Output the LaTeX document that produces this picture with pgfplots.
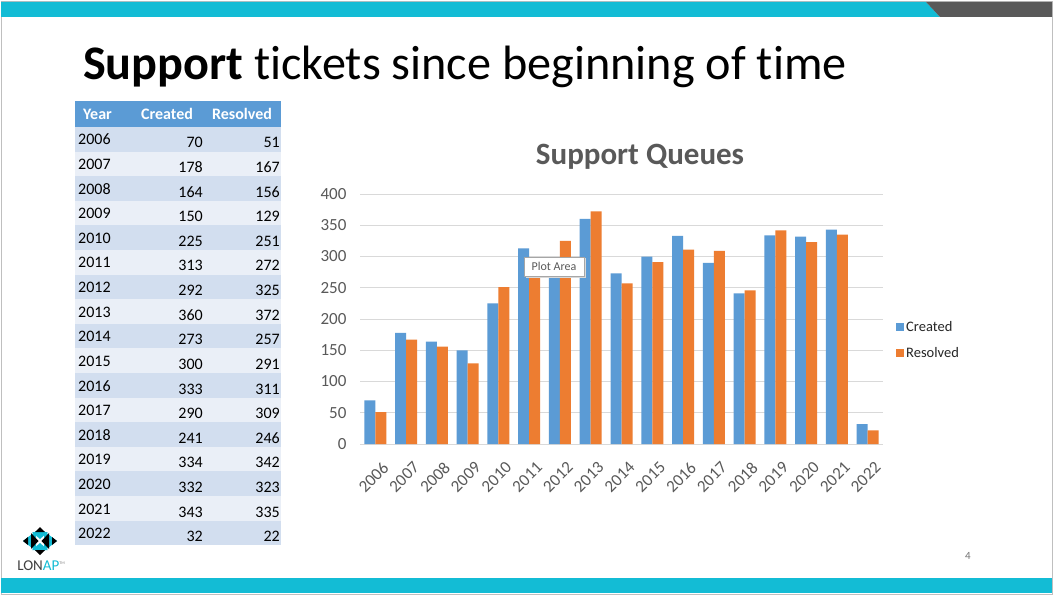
\documentclass[border=0pt]{standalone}
\usepackage{pgfplots}
\usepackage{pgfplotstable}
\pgfplotsset{compat=1.18}
\usepackage{fontspec}
\setmainfont{Carlito}[Ligatures=NoCommon]
\definecolor{xblue}{HTML}{5B9BD5}
\definecolor{xorange}{HTML}{ED7D31}
\definecolor{xgrey}{HTML}{595959}
\definecolor{xgrid}{HTML}{D9D9D9}
\definecolor{cyanbar}{HTML}{13BCD5}
\definecolor{rowA}{HTML}{D2DEEF}
\definecolor{rowB}{HTML}{EAEFF7}

\pgfplotstableread{
year created resolved
2006 70 51
2007 178 167
2008 164 156
2009 150 129
2010 225 251
2011 313 272
2012 292 325
2013 360 372
2014 273 257
2015 300 291
2016 333 311
2017 290 309
2018 241 246
2019 334 342
2020 332 323
2021 343 335
2022 32 22
}\data

\begin{document}
\begin{tikzpicture}[x=1pt,y=1pt]
\useasboundingbox (0,0) rectangle (1056,595);
\fill[white] (0,0) rectangle (1056,595);
\draw[black!25, line width=0.8pt] (1,1) rectangle (1052,594);
% top bar
\fill[cyanbar] (1,593) -- (926,593) -- (940,578) -- (1,578) -- cycle;
\fill[xgrey] (926,593) -- (1052,593) -- (1052,578) -- (940,578) -- cycle;
% bottom bar
\fill[cyanbar] (1,2) rectangle (1052,17);
% title
\node[anchor=base west, inner sep=0pt, font=\fontsize{48.2}{58}\selectfont] at (83,515) {\textbf{Support} tickets since beginning of time};
% table header
\fill[xblue] (75,494) rectangle (281,468);
\node[anchor=west, inner sep=0pt, text=white, font=\fontsize{16}{19}\selectfont\bfseries] at (83,481) {Year};
\node[inner sep=0pt, text=white, font=\fontsize{16}{19}\selectfont\bfseries] at (167,481) {Created};
\node[inner sep=0pt, text=white, font=\fontsize{16}{19}\selectfont\bfseries] at (242,481) {Resolved};
\foreach \yr/\c/\r [count=\i] in {2006/70/51,2007/178/167,2008/164/156,2009/150/129,2010/225/251,2011/313/272,2012/292/325,2013/360/372,2014/273/257,2015/300/291,2016/333/311,2017/290/309,2018/241/246,2019/334/342,2020/332/323,2021/343/335,2022/32/22}{
  \pgfmathsetmacro{\top}{468-(\i-1)*24.6}
  \pgfmathsetmacro{\bot}{\top-24.6}
  \ifodd\i \fill[rowA] (75,\top) rectangle (281,\bot); \else \fill[rowB] (75,\top) rectangle (281,\bot); \fi
  \node[anchor=base west, inner sep=0pt, font=\fontsize{16}{19}\selectfont] at (78,\top-18) {\yr};
  \node[anchor=base east, inner sep=0pt, font=\fontsize{16}{19}\selectfont] at (203,\top-21) {\c};
  \node[anchor=base east, inner sep=0pt, font=\fontsize{16}{19}\selectfont] at (280,\top-21) {\r};
}
% chart title
\node[text=xgrey, font=\fontsize{31}{37}\selectfont\bfseries] at (640,438) {Support Queues};
\begin{axis}[
  at={(360pt,151pt)}, anchor=south west,
  scale only axis, width=523pt, height=250pt,
  ymin=0, ymax=400, xmin=-0.5, xmax=16.5,
  ybar=0pt, bar width=11pt,
  xtick={0,...,16},
  xticklabels={2006,2007,2008,2009,2010,2011,2012,2013,2014,2015,2016,2017,2018,2019,2020,2021,2022},
  ytick={0,50,...,400},
  ymajorgrids, grid style={xgrid, line width=0.8pt},
  axis x line*=bottom, axis y line*=left,
  x axis line style={xgrid, line width=0.8pt, -},
  y axis line style={draw=none},
  tick style={draw=none},
  /pgf/number format/assume math mode=true,
  ticklabel style={text=xgrey, font=\fontsize{17}{20}\selectfont},
  yticklabel style={xshift=-10pt},
  xticklabel style={rotate=45, anchor=east, yshift=-19pt, xshift=-1pt},
  legend style={at={(1,0.416)}, anchor=west, xshift=10pt, draw=none, fill=none,
    font=\fontsize{14.5}{17}\selectfont, text=black!85, row sep=10pt, cells={anchor=west}},
  legend image code/.code={\fill[#1] (0pt,-4pt) rectangle (8pt,4pt);},
]
\addplot[fill=xblue, draw=none] table[x expr=\coordindex, y=created] {\data};
\addplot[fill=xorange, draw=none] table[x expr=\coordindex, y=resolved] {\data};
\legend{Created,Resolved}
\end{axis}
% tooltip
\fill[black!15] (525.5,336.5) rectangle (585.5,317.5);
\draw[black!35, fill=white, line width=0.6pt] (524,338) rectangle (584,319);
\node[text=xgrey, font=\fontsize{12}{14}\selectfont] at (554,328.5) {Plot Area};
% logo
\begin{scope}[shift={(40,54)}]
  \fill[cyanbar] (-17,0) -- (-4,10) -- (-4,-10) -- cycle;
  \fill[cyanbar] (17,0) -- (4,10) -- (4,-10) -- cycle;
  \fill[cyanbar] (-8,9) -- (8,9) -- (0,2) -- cycle;
  \fill[cyanbar] (-8,-9) -- (8,-9) -- (0,-2) -- cycle;
  \fill[black] (-5,9) -- (5,9) -- (0,14) -- cycle;
  \fill[black] (-5,-9) -- (5,-9) -- (0,-14) -- cycle;
  \fill[black] (-1.5,0) -- (-9,8) -- (-9,-8) -- cycle;
  \fill[black] (1.5,0) -- (9,8) -- (9,-8) -- cycle;
  \fill[black] (-17,0) -- (-12,4) -- (-12,-4) -- cycle;
  \fill[black] (17,0) -- (12,4) -- (12,-4) -- cycle;
\end{scope}
\node[inner sep=0pt, font=\fontsize{15}{17}\selectfont] at (41,29) {\textcolor{black!75}{LON}\textcolor{cyanbar}{AP}\raisebox{6pt}{\fontsize{4}{4}\selectfont\textcolor{black!50}{TM}}};
% page number
\node[text=black!55, font=\fontsize{11}{13}\selectfont] at (968,39) {4};
\end{tikzpicture}
\end{document}
